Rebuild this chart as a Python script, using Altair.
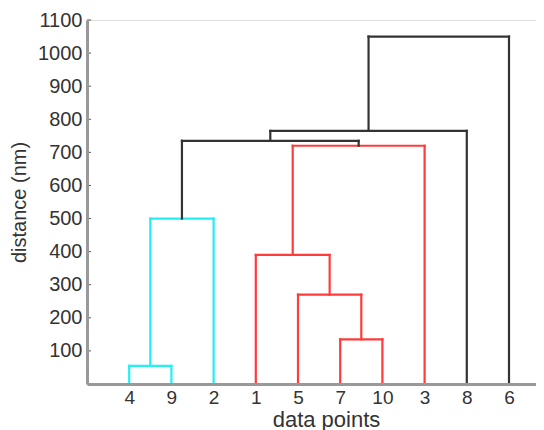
import altair as alt
import pandas as pd

# leaves in display order (left to right)
leaf_labels = ["4", "9", "2", "1", "5", "7", "10", "3", "8", "6"]

# merges: cluster ids 0-9 are the leaves above, 10+ are merges in this order
merge_left = [0, 10, 5, 4, 3, 14, 11, 16, 17]
merge_right = [1, 2, 6, 12, 13, 7, 15, 8, 9]
merge_height = [55, 500, 135, 270, 390, 720, 735, 765, 1050]
merge_group = ["cyan", "cyan", "red", "red", "red", "red", "black", "black", "black"]

y_ticks = [100, 200, 300, 400, 500, 600, 700, 800, 900, 1000, 1100]

# build the U-shaped link segments from the merge tables
pos = {i: i + 1 for i in range(len(leaf_labels))}
hgt = {i: 0 for i in range(len(leaf_labels))}
rows = []
for k, (a, b, h, g) in enumerate(zip(merge_left, merge_right, merge_height, merge_group)):
    xa, xb = pos[a], pos[b]
    rows.append({"x": xa, "x2": xa, "y": hgt[a], "y2": h, "grp": g})
    rows.append({"x": xb, "x2": xb, "y": hgt[b], "y2": h, "grp": g})
    rows.append({"x": xa, "x2": xb, "y": h, "y2": h, "grp": g})
    cid = len(leaf_labels) + k
    pos[cid] = (xa + xb) / 2
    hgt[cid] = h
seg = pd.DataFrame(rows)
ticks = pd.DataFrame({"v": y_ticks})

FONT = "Liberation Sans"
W, H = 449, 364
label_arr = "[" + ",".join("'" + s + "'" for s in leaf_labels) + "]"

xscale = alt.Scale(domain=[0, 10.64], nice=False, zero=False)
yscale = alt.Scale(domain=[0, 1100], nice=False)

y_axis = alt.Axis(values=y_ticks, format="d", title="distance (nm)",
                  ticks=False, grid=False, labelPadding=5,
                  labelFont=FONT, labelFontSize=20, labelColor="#333",
                  titleFont=FONT, titleFontSize=20,
                  titleFontWeight="normal", titleColor="#333",
                  titleX=-58, titleY=H / 2, titleBaseline="bottom",
                  domainColor="#999", domainWidth=3, zindex=1,
                  labelFlush=False, labelOverlap=False, labelSeparation=0)

links = alt.Chart(seg).mark_rule(strokeWidth=2.2, strokeCap="square").encode(
    x=alt.X("x:Q", scale=xscale,
            axis=alt.Axis(values=list(range(1, len(leaf_labels) + 1)),
                          labelExpr=label_arr + "[datum.value-1]",
                          title="data points", ticks=False, grid=False,
                          labelPadding=4, labelFont=FONT, labelFontSize=19,
                          labelColor="#333", titleFont=FONT, titleFontSize=22,
                          titleFontWeight="normal", titleColor="#333",
                          titleX=239, titleY=42, titleBaseline="alphabetic",
                          domainColor="#999", domainWidth=3, zindex=1,
                          labelFlush=False, labelOverlap=False)),
    x2="x2:Q",
    y=alt.Y("y:Q", scale=yscale, axis=y_axis),
    y2="y2:Q",
    color=alt.Color("grp:N", legend=None,
                    scale=alt.Scale(domain=["cyan", "red", "black"],
                                    range=["#22eef5", "#ff3b3b", "#333333"])),
)

tick_marks = alt.Chart(ticks).mark_rule(color="#555", strokeWidth=1).encode(
    y=alt.Y("v:Q", scale=yscale, axis=y_axis),
    x=alt.value(0),
    x2=alt.value(4),
)

chart = alt.layer(links, tick_marks).properties(
    width=W, height=H,
    autosize=alt.AutoSizeParams(type="none"),
    padding={"left": 79, "top": 12, "right": 0, "bottom": 46},
).configure_view(stroke=None).configure(background="white")

chart.save("out.html", embed_options={"renderer": "svg", "actions": False})
